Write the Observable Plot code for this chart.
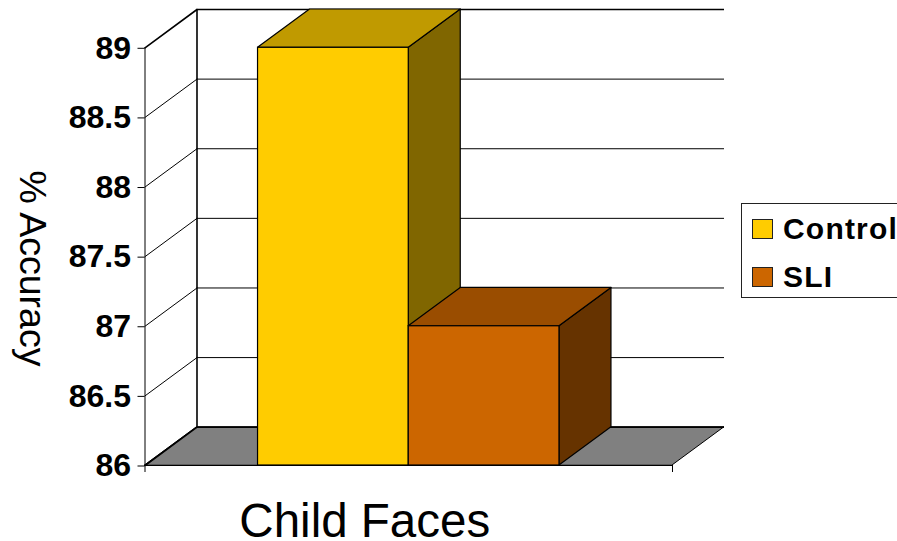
<!DOCTYPE html>
<html>
<head>
<meta charset="utf-8">
<script src="https://cdn.jsdelivr.net/npm/d3@7"></script>
<script src="https://cdn.jsdelivr.net/npm/@observablehq/plot@0.6"></script>
<style>
html,body{margin:0;padding:0;background:#fff;overflow:hidden;width:897px;height:541px}
#wrap{position:relative;width:897px;height:541px;font-family:"Liberation Sans",Arial,sans-serif}
#legend{position:absolute;left:741px;top:203px;width:160px;height:94.5px;box-sizing:border-box;border:1.5px solid #222;background:#fff}
.row{position:absolute;left:10px;display:flex;align-items:center;font-weight:bold;font-size:30px;letter-spacing:1.2px;color:#000;white-space:nowrap}
.sw{display:inline-block;width:21px;height:20px;box-sizing:border-box;border:1px solid #222;margin-right:10px}
</style>
</head>
<body>
<div id="wrap"><div id="legend"></div></div>
<script>
const categories = ["Control", "SLI"];
const values = [89, 87];
const frontColors = ["#FFCC00", "#CC6600"];
const topColors = ["#C09A00", "#9A4D00"];
const sideColors = ["#806600", "#663300"];
const yTicks = [86, 86.5, 87, 87.5, 88, 88.5, 89];
const xLabel = "Child Faces";
const yLabel = "% Accuracy";
const yBase = 86, yTop = 89;
const gapWidth = 0.75;             // gap each side, in bar widths
const xEnd = gapWidth * 2 + categories.length;
const depthX = 0.345, depthY = 0.275;

const para = (y0, y1, a, b) => [
  {y: y0, x1: a, x2: b},
  {y: y1, x1: a + depthX, x2: b + depthX}
];
const floor = Plot.areaX(para(yBase, yBase + depthY, 0, xEnd), {y: "y", x1: "x1", x2: "x2", fill: "#808080", stroke: "#000", strokeWidth: 1});

const grid = yTicks.flatMap((v, i) => {
  const sw = v === yBase || v === yTop ? 1.6 : 1;
  return [
    Plot.line([{x: 0, y: v}, {x: depthX, y: v + depthY}], {x: "x", y: "y", stroke: "#000", strokeWidth: sw}),
    Plot.ruleY([v + depthY], {x1: depthX, x2: xEnd + depthX, stroke: "#000", strokeWidth: sw})
  ];
});

const bars = categories.flatMap((c, i) => {
  const a = gapWidth + i, b = a + 1, v = values[i];
  return [
    Plot.areaY([{x: b, y1: yBase, y2: v}, {x: b + depthX, y1: yBase + depthY, y2: v + depthY}],
      {x: "x", y1: "y1", y2: "y2", fill: sideColors[i], stroke: "#000", strokeWidth: 1.2}),
    Plot.areaX(para(v, v + depthY, a, b), {y: "y", x1: "x1", x2: "x2", fill: topColors[i], stroke: "#000", strokeWidth: 1.2}),
    Plot.rect([{x1: a, x2: b, y1: yBase, y2: v}], {x1: "x1", x2: "x2", y1: "y1", y2: "y2", fill: frontColors[i], stroke: "#000", strokeWidth: 1.2})
  ];
});

const chart = Plot.plot({
  width: 897,
  height: 541,
  marginLeft: 144.5,
  marginRight: 173,
  marginTop: 9,
  marginBottom: 76,
  style: {fontFamily: '"Liberation Sans", Arial, sans-serif', background: "transparent", overflow: "visible"},
  x: {domain: [0, xEnd + depthX]},
  y: {domain: [yBase, yTop + depthY]},
  marks: [
    Plot.ruleX([depthX], {y1: yBase + depthY, y2: yTop + depthY, stroke: "#000", strokeWidth: 1.6}),
    floor,
    ...grid,
    Plot.ruleX([0], {y1: yBase, y2: yTop, stroke: "#000", strokeWidth: 1}),
    ...bars,
    Plot.ruleY([yBase], {x1: 0, x2: xEnd, stroke: "#000", strokeWidth: 1.2}),
    Plot.axisY({ticks: yTicks, tickSize: 7, tickPadding: 7, tickFormat: d => String(d), label: null, fontSize: 32, fontWeight: "bold", fill: "#000", stroke: "#000", dy: 0.5}),
    Plot.axisX({ticks: [0, xEnd], tickSize: 7, tickFormat: () => "", label: null, stroke: "#000"}),
    Plot.text([xLabel], {frameAnchor: "bottom", dx: -70, dy: 71, fontSize: 47.5, fill: "#000"}),
    Plot.text([yLabel], {frameAnchor: "left", textAnchor: "middle", rotate: 90, dx: -113, dy: 31, fontSize: 37.5, fill: "#000"})
  ]
});
document.getElementById("wrap").prepend(chart);

const legend = d3.select("#legend");
categories.forEach((c, i) => {
  const row = legend.append("div").attr("class", "row").style("top", (i === 0 ? 8 : 56) + "px");
  row.append("span").attr("class", "sw").style("background", frontColors[i]);
  row.append("span").text(c);
});
</script>
</body>
</html>
